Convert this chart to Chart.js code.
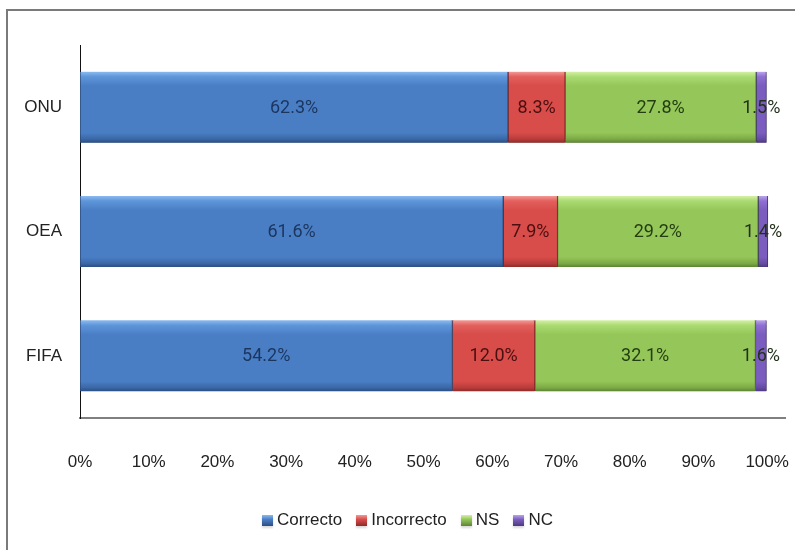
<!DOCTYPE html>
<html>
<head>
<meta charset="utf-8">
<script src="https://cdn.jsdelivr.net/npm/chart.js@4.4.1/dist/chart.umd.min.js"></script>
<style>
  html, body { margin:0; padding:0; background:#fff; }
  #wrap { position:relative; width:795px; height:550px; overflow:hidden; background:#fff; }
  #frame { position:absolute; left:6px; top:9px; width:820px; height:600px;
           border-top:2px solid #7a7a7a; border-left:2px solid #7a7a7a; }
  canvas { position:absolute; left:0; top:0; }
  #legend { position:absolute; left:0; width:795px; top:508px; height:24px;
            display:flex; justify-content:center; align-items:center;
            font-family:'Liberation Sans',Arial,sans-serif;
            font-size:17px; color:#222; padding-left:20px; box-sizing:border-box; }
  .item { display:flex; align-items:center; margin:0 7px; }
  .box { width:11px; height:11px; margin-right:4px; box-shadow:0 2px 2px rgba(0,0,0,0.15); }
</style>
</head>
<body>
<div id="wrap">
  <div id="frame"></div>
  <canvas id="c" width="795" height="550"></canvas>
  <div id="legend"></div>
</div>
<script>
// ---- data ----
const categories = ['ONU', 'OEA', 'FIFA'];
const seriesNames = ['Correcto', 'Incorrecto', 'NS', 'NC'];
const correcto   = [62.3, 61.6, 54.2];
const incorrecto = [8.3, 7.9, 12.0];
const ns         = [27.8, 29.2, 32.1];
const nc         = [1.5, 1.4, 1.6];
const tickValues = [0, 10, 20, 30, 40, 50, 60, 70, 80, 90, 100];

// ---- styles ----
const FONT = "'Liberation Sans',Arial,sans-serif";
const LABEL_FONT = "Roboto,'Liberation Sans',sans-serif";
const BAR = 71;
const palettes = [
  { top:'#8cbaf0', light:'#5e96da', mid:'#4a7ec4', dark:'#3a67a6', dark2:'#2b4e82', label:'#1b355f' },
  { top:'#f29a97', light:'#e3605d', mid:'#d84c4a', dark:'#b83c3a', dark2:'#8e2b29', label:'#4a0f0f' },
  { top:'#d6f0a6', light:'#aadb72', mid:'#95c659', dark:'#7ca946', dark2:'#5d8433', label:'#243e11' },
  { top:'#bba4ea', light:'#8e70d2', mid:'#7b5dc0', dark:'#654ba2', dark2:'#4d3981', label:'#22301a' }
];
const seriesData = [correcto, incorrecto, ns, nc];

function makeGrad(c, p) {
  const ch = c.chart;
  if (c.type !== 'data' || !ch.chartArea || !ch.scales.y) return p.mid;
  const y = ch.scales.y.getPixelForValue(c.dataIndex);
  const h = BAR / 2;
  const g = ch.ctx.createLinearGradient(0, y - h, 0, y + h);
  g.addColorStop(0, p.top);
  g.addColorStop(0.07, p.light);
  g.addColorStop(0.2, p.mid);
  g.addColorStop(0.86, p.mid);
  g.addColorStop(0.95, p.dark);
  g.addColorStop(1, p.dark2);
  return g;
}

const datasets = seriesNames.map((name, i) => ({
  label: name,
  data: seriesData[i],
  backgroundColor: (c) => makeGrad(c, palettes[i]),
  borderColor: palettes[i].dark2,
  borderWidth: { left: 1, right: 1, top: 0, bottom: 0 },
  borderSkipped: false,
  barThickness: BAR
}));

const shadowPlugin = {
  id: 'shadow',
  beforeDatasetDraw(chart) {
    const ctx = chart.ctx;
    ctx.save();
    ctx.shadowColor = 'rgba(0,0,0,0.28)';
    ctx.shadowBlur = 5;
    ctx.shadowOffsetY = 4;
  },
  afterDatasetDraw(chart) { chart.ctx.restore(); }
};

const labelPlugin = {
  id: 'barLabels',
  afterDatasetsDraw(chart) {
    const ctx = chart.ctx;
    ctx.save();
    ctx.font = '18px ' + LABEL_FONT;
    ctx.textAlign = 'center';
    ctx.textBaseline = 'middle';
    chart.data.datasets.forEach((ds, i) => {
      const meta = chart.getDatasetMeta(i);
      ctx.fillStyle = palettes[i].label;
      meta.data.forEach((el, j) => {
        const { x, base, y } = el.getProps(['x', 'base', 'y'], true);
        ctx.fillText(ds.data[j].toFixed(1) + '%', (x + base) / 2, y + 1);
      });
    });
    ctx.restore();
  }
};

new Chart(document.getElementById('c'), {
  type: 'bar',
  data: { labels: categories, datasets },
  options: {
    responsive: false,
    animation: false,
    indexAxis: 'y',
    layout: { padding: { left: 0, top: 45, right: 10, bottom: 47 } },
    plugins: { legend: { display: false }, tooltip: { enabled: false } },
    scales: {
      x: {
        stacked: true,
        min: 0,
        max: 102.6,
        afterBuildTicks: (s) => { s.ticks = tickValues.map(v => ({ value: v })); },
        afterFit: (s) => { s.height = 85; s.paddingLeft = 0; s.paddingRight = 0; },
        grid: { display: false, drawTicks: false },
        border: { display: true, color: '#7f7f7f', width: 2 },
        ticks: {
          padding: 34,
          font: { family: FONT, size: 17 },
          color: '#222',
          maxRotation: 0,
          autoSkip: false,
          callback: (v) => v + '%'
        }
      },
      y: {
        stacked: true,
        afterFit: (s) => { s.width = 80; s.paddingTop = 0; s.paddingBottom = 0; },
        grid: { display: false, drawTicks: false },
        border: { display: true, color: '#111', width: 1 },
        ticks: {
          padding: 18,
          font: { family: FONT, size: 17 },
          color: '#222'
        }
      }
    }
  },
  plugins: [shadowPlugin, labelPlugin]
});

// HTML legend built from the series
const lg = document.getElementById('legend');
seriesNames.forEach((name, i) => {
  const p = palettes[i];
  const it = document.createElement('div');
  it.className = 'item';
  const b = document.createElement('span');
  b.className = 'box';
  b.style.background = `linear-gradient(180deg, ${p.top}, ${p.mid} 40%, ${p.dark2})`;
  const t = document.createElement('span');
  t.textContent = name;
  it.appendChild(b); it.appendChild(t);
  lg.appendChild(it);
});
</script>
</body>
</html>
